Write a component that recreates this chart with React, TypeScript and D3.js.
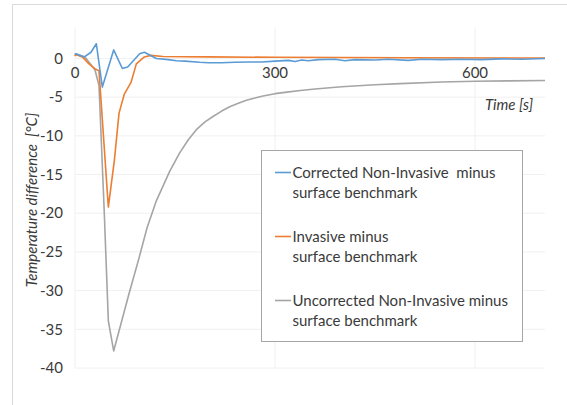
import React from 'react';
import * as d3 from 'd3';

const width = 567;
const height = 405;

// time [s] and temperature difference [°C]
const correctedT = [0, 1, 14, 24, 32, 41, 58, 71, 79, 97, 104, 122, 140, 152, 165, 187, 200, 220, 240, 260, 280, 300, 320, 330, 340, 350, 365, 390, 405, 420, 450, 470, 500, 520, 550, 580, 610, 640, 670, 705];
const correctedV = [0.5, 0.6, 0.2, 0.8, 1.9, -3.7, 1.1, -1.3, -1.1, 0.6, 0.8, 0, -0.15, -0.3, -0.35, -0.5, -0.55, -0.55, -0.5, -0.45, -0.45, -0.35, -0.25, -0.4, -0.2, -0.3, -0.15, -0.1, -0.3, -0.15, -0.2, -0.1, -0.25, -0.1, -0.15, -0.1, -0.15, -0.05, -0.1, 0];

const invasiveT = [0, 1, 11, 21, 31, 36, 50, 59, 66, 74, 84, 92, 104, 114, 132, 200, 300, 500, 705];
const invasiveV = [0.3, 0.5, 0.2, -0.7, -1.4, -1.6, -19.2, -13.2, -7.1, -4.6, -3.1, -0.7, 0.2, 0.4, 0.25, 0.2, 0.15, 0.1, 0.05];

const uncorrectedT = [0, 1, 15, 30, 36, 44, 50, 58, 81, 96, 108, 122, 142, 157, 170, 182, 195, 207, 220, 232, 245, 257, 270, 282, 300, 318, 338, 360, 400, 450, 488, 550, 600, 650, 705];
const uncorrectedV = [0.4, 0.6, 0.2, -1.5, -3.5, -20.1, -33.9, -37.8, -30.4, -25.8, -21.9, -18.4, -14.6, -12.2, -10.5, -9.2, -8.2, -7.5, -6.8, -6.25, -5.8, -5.4, -5.1, -4.85, -4.55, -4.35, -4.15, -3.95, -3.65, -3.4, -3.25, -3.05, -2.95, -2.9, -2.85];

const xTicks = [0, 300, 600];
const yTicks = [0, -5, -10, -15, -20, -25, -30, -35, -40];

const seriesNames = [
  ['Corrected Non-Invasive  minus', 'surface benchmark'],
  ['Invasive minus', 'surface benchmark'],
  ['Uncorrected Non-Invasive minus', 'surface benchmark'],
];
const colors = ['#5b9bd5', '#ed7d31', '#a5a5a5'];

const font = 'Lato, "Open Sans", sans-serif';

const App = () => {
  const x = d3.scaleLinear().domain([0, 600]).range([75, 475]);
  const y = d3.scaleLinear().domain([-40, 4]).range([368, 27.5]);
  const line = d3.line<[number, number]>().x(d => x(d[0])).y(d => y(d[1]));

  const series = [
    d3.zip(correctedT, correctedV),
    d3.zip(invasiveT, invasiveV),
    d3.zip(uncorrectedT, uncorrectedV),
  ] as [number, number][][];

  const xEnd = x(705);
  const legendX = 261.5;
  const legendY = 150.5;

  return (
    <svg width={width} height={height} style={{ position: 'absolute', left: 0, top: 0, background: '#fff' }}>
      <rect x={12.5} y={4.5} width={width} height={height} fill="#fff" stroke="#d9d9d9" />
      {/* grid */}
      {yTicks.map(t => (
        <line key={'gy' + t} x1={x(0)} x2={xEnd} y1={y(t)} y2={y(t)} stroke="#f0f0f0" />
      ))}
      {xTicks.map(t => (
        <line key={'gx' + t} x1={x(t)} x2={x(t)} y1={y(4)} y2={y(-40)} stroke="#f0f0f0" />
      ))}
      {/* tick labels */}
      {yTicks.map(t => (
        <text key={'ty' + t} x={63} y={y(t)} dy="0.35em" textAnchor="end" fontFamily={font} fontSize={15} fill="#3a3a3a">
          {t}
        </text>
      ))}
      {xTicks.map(t => (
        <text key={'tx' + t} x={x(t)} y={78} textAnchor="middle" fontFamily={font} fontSize={15} fill="#3a3a3a">
          {t}
        </text>
      ))}
      <text x={533} y={110} textAnchor="end" fontFamily={font} fontSize={15} fontStyle="italic" fill="#3a3a3a">
        Time [s]
      </text>
      <text
        transform={`translate(32,200) rotate(-90)`}
        textAnchor="middle"
        dy="0.35em"
        fontFamily={font}
        fontSize={15}
        fontStyle="italic"
        fill="#3a3a3a"
        style={{ whiteSpace: 'pre' }}
      >
        {'Temperature difference  [°C]'}
      </text>
      {/* lines, gray drawn first */}
      {[2, 1, 0].map(i => (
        <path key={'s' + i} d={line(series[i]) || ''} fill="none" stroke={colors[i]} strokeWidth={1.6} strokeLinejoin="round" />
      ))}
      {/* legend */}
      <rect x={legendX} y={legendY} width={261} height={191} fill="#fff" stroke="#a6a6a6" />
      {seriesNames.map((names, i) => {
        const top = legendY + 22 + i * 64;
        return (
          <g key={'lg' + i}>
            <line x1={275} x2={291} y1={top} y2={top} stroke={colors[i]} strokeWidth={1.6} />
            {names.map((n, j) => (
              <text key={j} x={292.5} y={top + j * 20.7} dy="0.35em" fontFamily={font} fontSize={15} fill="#3a3a3a" style={{ whiteSpace: 'pre' }}>
                {n}
              </text>
            ))}
          </g>
        );
      })}
    </svg>
  );
};

export default App;
